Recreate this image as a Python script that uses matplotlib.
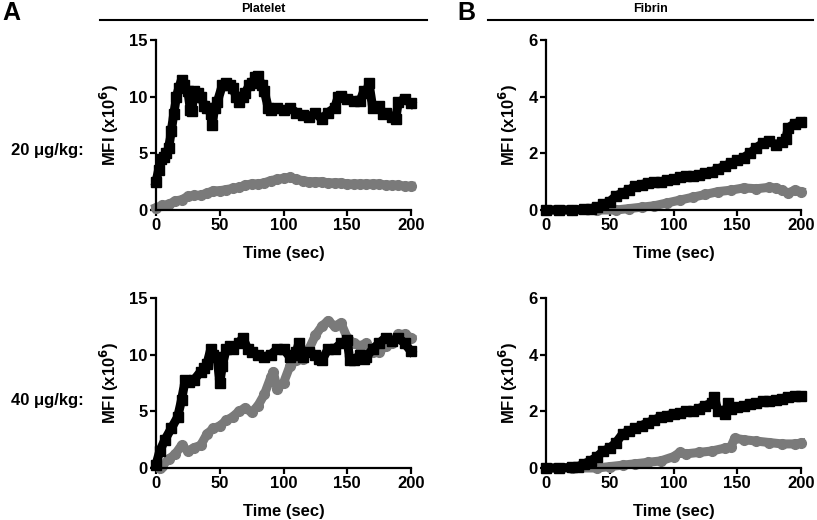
import matplotlib
matplotlib.use('Agg')
import matplotlib.pyplot as plt
from matplotlib.lines import Line2D

'''
Platelet and fibrin accumulation (MFI) over time at two doses.
Black squares and grey circles are the two groups in every panel.
'''

plt.rcParams['font.family'] = ['Liberation Sans', 'DejaVu Sans']
plt.rcParams['font.weight'] = 'bold'

# platelet, 20 ug/kg
plt20_black_t = [0, 2, 4, 6, 8, 10, 12, 14, 16, 18, 20, 22, 25, 27, 28, 30, 33, 35, 38, 40, 43, 44, 46,
                 48, 52, 55, 58, 60, 63, 65, 68, 70, 73, 75, 78, 80, 83, 85, 88, 90, 95, 100, 105,
                 110, 115, 120, 125, 130, 135, 140, 143, 145, 150, 155, 160, 163, 165, 167, 170,
                 175, 178, 180, 185, 188, 190, 195, 200]
plt20_black_y = [2.5, 3.5, 4.5, 4.7, 5.0, 5.5, 7.0, 8.5, 10.0, 10.8, 11.5, 11.0, 10.5, 8.8, 8.7, 10.5,
                 10.3, 10.0, 9.2, 9.0, 8.5, 7.5, 9.0, 9.5, 11.0, 11.2, 11.0, 10.8, 10.0, 9.5, 10.0,
                 10.3, 11.0, 11.2, 11.7, 11.8, 11.0, 10.5, 9.0, 8.8, 9.0, 8.8, 9.0, 8.6, 8.4, 8.2,
                 8.6, 8.0, 8.6, 9.0, 10.0, 10.1, 9.8, 9.6, 9.6, 10.5, 10.3, 11.2, 9.0, 9.2, 8.5,
                 8.6, 8.2, 8.0, 9.5, 9.8, 9.4]
plt20_grey_t = [0, 5, 10, 15, 20, 25, 30, 35, 40, 45, 50, 55, 60, 65, 70, 75, 80, 85, 90, 95, 100,
                105, 110, 115, 120, 125, 130, 135, 140, 145, 150, 155, 160, 165, 170, 175, 180,
                185, 190, 195, 200]
plt20_grey_y = [0.2, 0.4, 0.5, 0.8, 0.9, 1.2, 1.3, 1.3, 1.5, 1.7, 1.7, 1.8, 1.9, 2.0, 2.2, 2.3, 2.3,
                2.4, 2.6, 2.7, 2.8, 2.9, 2.7, 2.6, 2.5, 2.5, 2.5, 2.4, 2.4, 2.4, 2.3, 2.3, 2.3, 2.3,
                2.3, 2.3, 2.2, 2.2, 2.2, 2.1, 2.1]

# platelet, 40 ug/kg
plt40_black_t = [0, 3, 7, 12, 17, 20, 23, 26, 30, 35, 38, 40, 43, 45, 48, 50, 52, 55, 58, 60, 65,
                 68, 72, 75, 80, 85, 90, 95, 100, 105, 108, 110, 112, 115, 120, 125, 128, 130,
                 135, 140, 145, 150, 152, 155, 160, 163, 165, 170, 175, 180, 185, 190, 195, 200]
plt40_black_y = [0.3, 1.5, 2.5, 3.5, 4.5, 6.0, 7.8, 7.6, 7.8, 8.5, 8.8, 9.2, 10.5, 10.0, 9.8, 7.5,
                 9.0, 10.5, 10.8, 10.5, 11.0, 11.5, 10.5, 10.2, 10.0, 9.8, 10.0, 10.5, 10.5, 9.8,
                 10.0, 10.2, 11.0, 9.8, 10.2, 10.0, 9.6, 9.5, 10.5, 10.5, 11.0, 11.3, 9.5, 9.5, 10.0,
                 9.6, 9.8, 10.5, 11.0, 11.5, 11.2, 11.5, 11.0, 10.3]
plt40_grey_t = [3, 5, 10, 15, 20, 25, 30, 35, 40, 45, 50, 55, 60, 65, 70, 75, 80, 85, 90, 92, 95,
                100, 105, 110, 115, 120, 125, 130, 135, 140, 145, 150, 155, 160, 165, 170, 175,
                180, 185, 190, 195, 200]
plt40_grey_y = [0.0, 0.2, 0.8, 1.2, 2.0, 1.5, 1.8, 2.0, 3.0, 3.5, 3.7, 4.2, 4.5, 5.0, 5.3, 4.9, 5.5,
                6.5, 8.0, 8.5, 7.0, 7.5, 9.0, 9.5, 9.6, 10.5, 11.7, 12.5, 13.0, 12.5, 12.8, 11.5,
                11.0, 10.8, 11.0, 10.2, 10.2, 10.8, 11.0, 11.8, 11.8, 11.5]

# fibrin, 20 ug/kg
fib20_black_t = [0, 10, 20, 30, 35, 40, 45, 50, 55, 60, 65, 70, 75, 80, 85, 90, 95, 100, 105, 110,
                 115, 120, 125, 130, 135, 140, 145, 150, 155, 160, 165, 170, 175, 180, 185, 188,
                 190, 195, 200]
fib20_black_y = [0.0, 0.0, 0.0, 0.02, 0.05, 0.1, 0.2, 0.3, 0.5, 0.6, 0.7, 0.85, 0.9, 0.95, 1.0, 1.0,
                 1.05, 1.1, 1.15, 1.2, 1.2, 1.25, 1.3, 1.35, 1.45, 1.55, 1.65, 1.75, 1.85, 2.0, 2.2,
                 2.35, 2.45, 2.3, 2.4, 2.5, 2.9, 3.05, 3.1]
fib20_grey_t = [0, 20, 40, 55, 65, 75, 85, 95, 105, 115, 125, 135, 145, 155, 165, 175, 180, 185,
                190, 195, 200]
fib20_grey_y = [0.0, 0.0, 0.0, 0.0, 0.05, 0.1, 0.15, 0.25, 0.35, 0.45, 0.55, 0.65, 0.7, 0.78, 0.75,
                0.8, 0.78, 0.7, 0.6, 0.7, 0.65]

# fibrin, 40 ug/kg
fib40_black_t = [0, 10, 20, 25, 30, 35, 40, 45, 50, 55, 60, 65, 70, 75, 80, 85, 90, 95, 100, 105,
                 110, 115, 120, 125, 130, 132, 135, 140, 143, 145, 150, 155, 160, 165, 170, 175,
                 180, 185, 190, 195, 200]
fib40_black_y = [0.0, 0.0, 0.02, 0.05, 0.15, 0.25, 0.4, 0.6, 0.7, 0.9, 1.2, 1.3, 1.4, 1.5, 1.6, 1.7,
                 1.8, 1.85, 1.9, 1.95, 2.0, 2.0, 2.1, 2.2, 2.3, 2.5, 2.0, 1.9, 2.3, 2.1, 2.15, 2.2,
                 2.25, 2.3, 2.35, 2.35, 2.4, 2.45, 2.5, 2.55, 2.55]
fib40_grey_t = [0, 20, 40, 50, 60, 70, 80, 90, 100, 105, 110, 120, 130, 140, 145, 148, 155, 165,
                175, 185, 195, 200]
fib40_grey_y = [0.0, 0.0, 0.0, 0.05, 0.1, 0.15, 0.2, 0.25, 0.4, 0.55, 0.5, 0.55, 0.6, 0.7, 0.75,
                1.05, 1.0, 0.95, 0.9, 0.85, 0.85, 0.88]

GREY = '#7a7a7a'


def panel(fig, rect, bt, by, gt, gy, ymax, ystep):
    ax = fig.add_axes(rect)
    ax.plot(gt, gy, '-o', color=GREY, lw=6.5, ms=7, clip_on=False, zorder=2)
    ax.plot(bt, by, '-s', color='black', lw=6.5, ms=7, clip_on=False, zorder=3)
    ax.set_xlim(0, 200)
    ax.set_ylim(0, ymax)
    ax.set_xticks([0, 50, 100, 150, 200])
    ax.set_yticks(range(0, ymax + 1, ystep))
    for s in ['top', 'right']:
        ax.spines[s].set_visible(False)
    for s in ['left', 'bottom']:
        ax.spines[s].set_linewidth(1.6)
    ax.tick_params(width=1.6, length=4, labelsize=12, pad=2)
    for lab in ax.get_xticklabels() + ax.get_yticklabels():
        lab.set_fontweight('bold')
    ax.set_xlabel('Time (sec)', fontsize=12, fontweight='bold', labelpad=9)
    ax.set_ylabel('MFI (x10$^{\\mathbf{6}}$)', fontsize=12, fontweight='bold', labelpad=6)
    return ax


fig = plt.figure(figsize=(8.17, 5.2), dpi=100)
fig.patch.set_facecolor('white')

W, H = 817.0, 520.0
aw, ah = 255 / W, 170 / H
panel(fig, [156 / W, 1 - 210 / H, aw, ah], plt20_black_t, plt20_black_y, plt20_grey_t, plt20_grey_y, 15, 5)
panel(fig, [546 / W, 1 - 210 / H, aw, ah], fib20_black_t, fib20_black_y, fib20_grey_t, fib20_grey_y, 6, 2)
panel(fig, [156 / W, 1 - 468 / H, aw, ah], plt40_black_t, plt40_black_y, plt40_grey_t, plt40_grey_y, 15, 5)
panel(fig, [546 / W, 1 - 468 / H, aw, ah], fib40_black_t, fib40_black_y, fib40_grey_t, fib40_grey_y, 6, 2)

# headers
fig.add_artist(Line2D([100 / W, 427 / W], [1 - 20 / H, 1 - 20 / H], color='black', lw=1.5))
fig.add_artist(Line2D([488 / W, 813 / W], [1 - 20 / H, 1 - 20 / H], color='black', lw=1.5))
fig.text(263 / W, 1 - 9 / H, 'Platelet', ha='center', va='center', fontsize=9, fontweight='bold')
fig.text(650 / W, 1 - 9 / H, 'Fibrin', ha='center', va='center', fontsize=9, fontweight='bold')
fig.text(2 / W, 1 - 13 / H, 'A', ha='left', va='center', fontsize=18, fontweight='bold')
fig.text(457 / W, 1 - 13 / H, 'B', ha='left', va='center', fontsize=18, fontweight='bold')

# dose labels
fig.text(47 / W, 1 - 150 / H, '20 \u03bcg/kg:', ha='center', va='center', fontsize=12, fontweight='bold')
fig.text(47 / W, 1 - 400 / H, '40 \u03bcg/kg:', ha='center', va='center', fontsize=12, fontweight='bold')

fig.savefig('out.png', dpi=100)
